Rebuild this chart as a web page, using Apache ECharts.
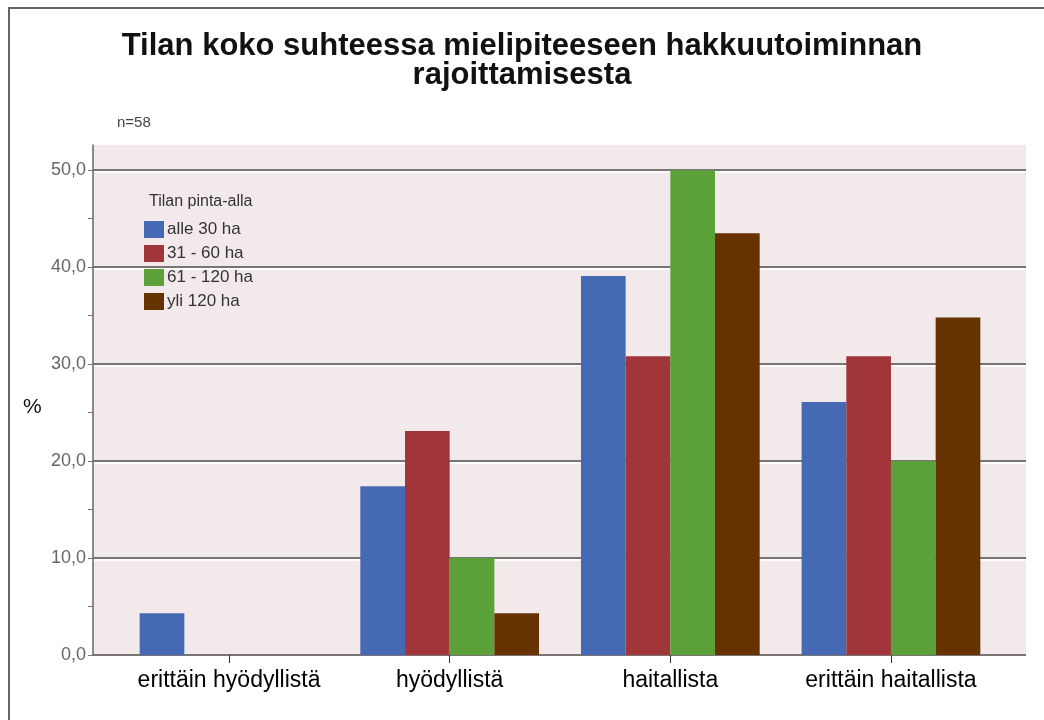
<!DOCTYPE html>
<html>
<head>
<meta charset="utf-8">
<script src="https://cdn.jsdelivr.net/npm/echarts@6/dist/echarts.min.js"></script>
<style>
  html, body { margin: 0; padding: 0; background: #fff; }
  #chart { width: 1044px; height: 720px; }
</style>
</head>
<body>
<div id="chart"></div>
<script>
// categories and series (percent of respondents)
const categories = ['erittäin hyödyllistä', 'hyödyllistä', 'haitallista', 'erittäin haitallista']
const seriesNames = ['alle 30 ha', '31 - 60 ha', '61 - 120 ha', 'yli 120 ha']
const alle30 = [4.3, 17.4, 39.1, 26.1]
const ha31to60 = [0, 23.1, 30.8, 30.8]
const ha61to120 = [0, 10.0, 50.0, 20.0]
const yli120 = [0, 4.3, 43.5, 34.8]
const colors = ['#4669b3', '#a0363a', '#5ca03a', '#663300']

const yMax = 52.6
const font = '"Liberation Sans", Arial, sans-serif'

const chart = echarts.init(document.getElementById('chart'))

const seriesData = [alle30, ha31to60, ha61to120, yli120]

chart.setOption({
    animation: false,
    textStyle: { fontFamily: font },
    title: [{
        text: 'Tilan koko suhteessa mielipiteeseen hakkuutoiminnan\nrajoittamisesta',
        left: 'center',
        top: 27,
        textStyle: { fontSize: 31, fontWeight: 'bold', color: '#111', lineHeight: 29, fontFamily: font }
    }, {
        text: 'n=58',
        left: 112,
        top: 110,
        textStyle: { fontSize: 15, fontWeight: 'normal', color: '#444', fontFamily: font }
    }, {
        text: 'Tilan pinta-alla',
        left: 144,
        top: 189,
        textStyle: { fontSize: 16, fontWeight: 'normal', color: '#333', fontFamily: font }
    }, {
        text: '%',
        left: 18,
        top: 392,
        textStyle: { fontSize: 21, fontWeight: 'normal', color: '#111', fontFamily: font }
    }],
    graphic: [{
        type: 'rect',
        shape: { x: 9, y: 8, width: 1100, height: 800 },
        style: { fill: 'none', stroke: '#666', lineWidth: 2 },
        silent: true
    }],
    legend: {
        orient: 'vertical',
        left: 144,
        top: 221,
        padding: 0,
        itemWidth: 20,
        itemHeight: 17,
        itemGap: 7,
        icon: 'rect',
        data: seriesNames,
        textStyle: { fontSize: 17, color: '#333', padding: [0, 0, 0, -2] }
    },
    grid: [{
        left: 93, right: 18, top: 145, bottom: 65,
        show: true, backgroundColor: '#f2eaea', borderWidth: 0
    }, {
        left: 118.7, right: 42.7, top: 145, bottom: 65
    }],
    xAxis: [{
        gridIndex: 0, type: 'value', min: 0, max: 1, show: false
    }, {
        gridIndex: 1,
        type: 'category',
        data: categories,
        axisLine: { show: false },
        axisTick: { show: true, alignWithLabel: true, length: 8, lineStyle: { color: '#333' } },
        axisLabel: { interval: 0, hideOverlap: false, fontSize: 23, color: '#000', margin: 14 }
    }],
    yAxis: [{
        gridIndex: 0,
        type: 'value',
        min: 0,
        max: yMax,
        interval: 5,
        axisLine: { show: true, lineStyle: { color: '#666', width: 1.5 } },
        axisTick: { show: true, length: 5, lineStyle: { color: '#777' } },
        axisLabel: {
            fontSize: 18,
            color: '#666',
            margin: 7,
            showMaxLabel: false,
            formatter: v => (v % 10 === 0 ? v.toFixed(1).replace('.', ',') : '')
        },
        splitLine: {
            show: true,
            lineStyle: {
                color: ['#787474', 'transparent'],
                width: 2,
                shadowColor: 'rgba(255,255,255,0.9)',
                shadowOffsetY: 2,
                shadowBlur: 0
            }
        }
    }, {
        gridIndex: 1,
        type: 'value',
        min: 0,
        max: yMax,
        show: false,
        splitLine: { show: false }
    }],
    series: seriesNames.map((name, i) => ({
        name,
        type: 'bar',
        xAxisIndex: 1,
        yAxisIndex: 1,
        data: seriesData[i],
        barGap: '0%',
        barCategoryGap: '19%',
        itemStyle: { color: colors[i] }
    }))
})
</script>
</body>
</html>
